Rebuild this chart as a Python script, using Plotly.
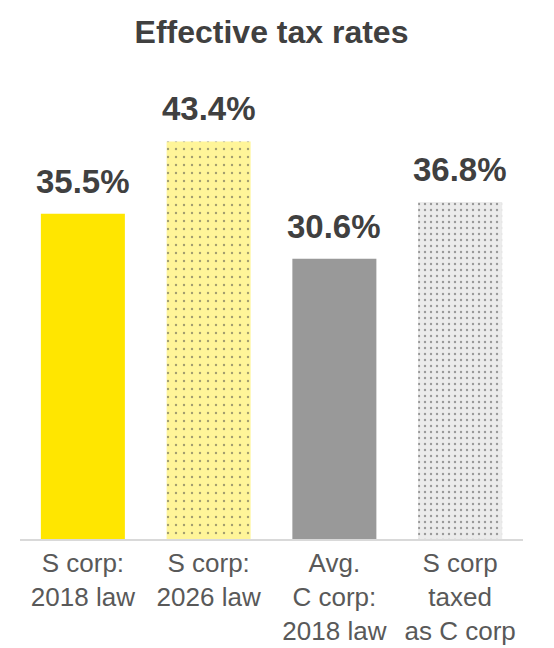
import plotly.graph_objects as go

categories = ["S corp:<br>2018 law", "S corp:<br>2026 law", "Avg.<br>C corp:<br>2018 law", "S corp<br>taxed<br>as C corp"]
rates = [35.5, 43.4, 30.6, 36.8]
labels = ["35.5%", "43.4%", "30.6%", "36.8%"]

bar_colors = ["#FFE600", "#FFF599", "#999999", "#EBEBEB"]
pattern_shapes = ["", ".", "", "."]
pattern_sizes = [8, 8, 8, 6]
pattern_solidity = [0.07, 0.07, 0.07, 0.12]

FONT = "Arial, Liberation Sans, sans-serif"

fig = go.Figure()
fig.add_trace(go.Bar(
    x=categories, y=rates,
    marker=dict(
        color=bar_colors,
        line=dict(width=0),
        pattern=dict(
            shape=pattern_shapes,
            size=pattern_sizes,
            solidity=pattern_solidity,
            fgcolor="#8C8C8C",
            fillmode="overlay",
        ),
    ),
    hoverinfo="skip",
))

for c, v, t in zip(categories, rates, labels):
    fig.add_annotation(
        x=c, y=v, text="<b>" + t + "</b>", showarrow=False,
        yanchor="bottom", yshift=12,
        font=dict(family=FONT, size=33, color="#404040"),
    )

fig.update_layout(
    width=554, height=648,
    margin=dict(l=12, r=39, t=73, b=117, autoexpand=False),
    paper_bgcolor="white", plot_bgcolor="white",
    bargap=0.332,
    showlegend=False,
    title=dict(
        text="<b>Effective tax rates</b>",
        x=0.5, xanchor="center", xref="paper",
        y=1 - 24 / 648, yanchor="middle", yref="container",
        font=dict(family=FONT, size=32, color="#404040"),
    ),
    xaxis=dict(
        automargin=False,
        showline=True, linecolor="#D9D9D9", linewidth=2,
        showgrid=False, zeroline=False,
        ticks="", ticklen=0,
        tickfont=dict(family=FONT, size=26, color="#595959"),
    ),
    yaxis=dict(
        automargin=False,
        range=[0, 50], visible=False, showgrid=False, zeroline=False,
    ),
)

fig.write_html("out.html")
